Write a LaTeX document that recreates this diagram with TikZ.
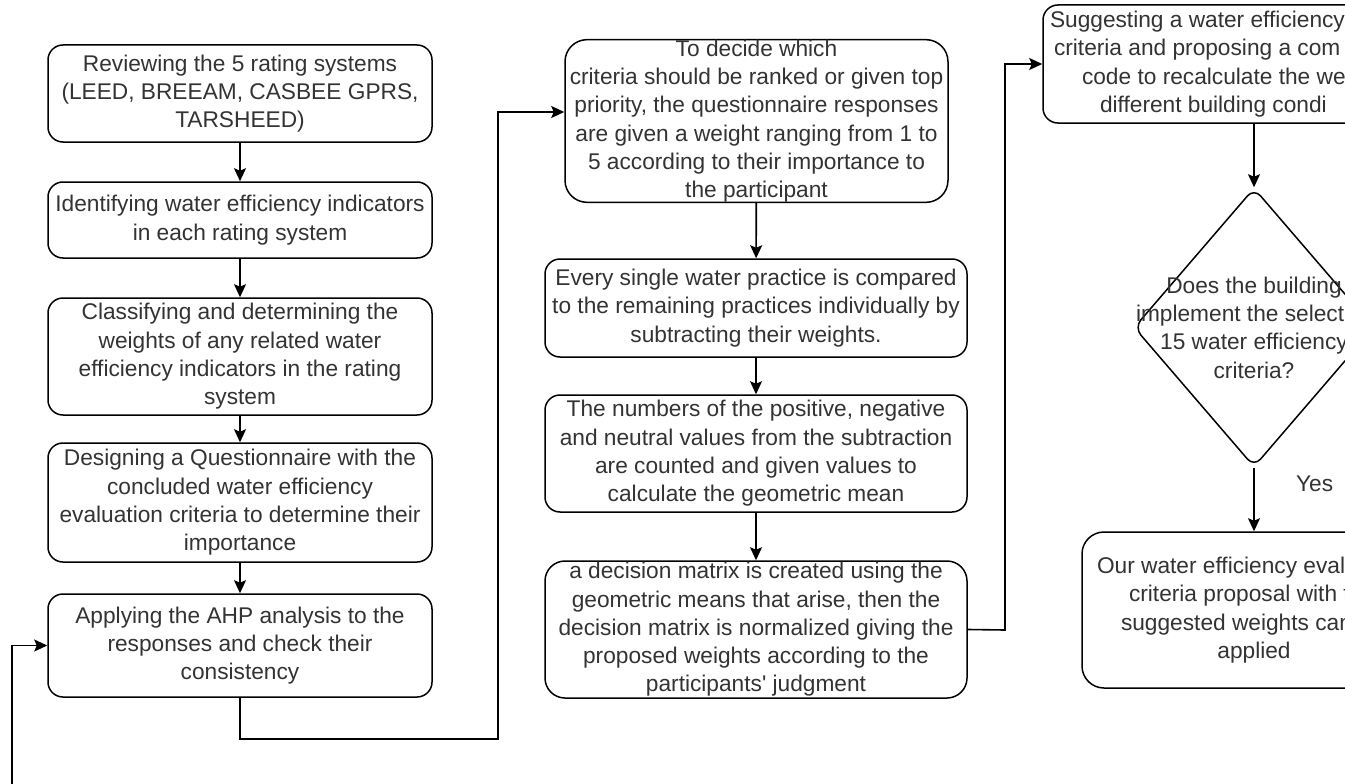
\documentclass[tikz,border=0pt]{standalone}
\usepackage{fontspec}
\setmainfont{Liberation Sans}
\usepackage{tikz}
\usetikzlibrary{arrows.meta,shapes.geometric}
\definecolor{foreground}{RGB}{0,0,0}
\definecolor{textgray}{RGB}{51,51,51}
\tikzstyle{process}=[draw=foreground,line width=1.5pt,rounded corners=15pt,inner sep=0pt,align=center,text=textgray,font=\fontsize{22.7}{28.3}\selectfont]
\tikzstyle{decision}=[draw=foreground,diamond,line width=1.5pt,rounded corners=10pt,inner sep=0pt,minimum width=240pt,minimum height=279pt]
\tikzstyle{qtext}=[align=center,text=textgray,font=\fontsize{22.7}{28.3}\selectfont]
\tikzstyle{edge} = [draw,line width=1.5pt,-]
\tikzstyle{dedge} = [draw,line width=1.6pt,-{Stealth[length=13pt,width=12pt,inset=2.5pt]}]
\newcommand{\cutline}[2]{\makebox[#1][l]{#2}}

\begin{document}
\begin{tikzpicture}[x=1pt,y=-1pt]

      \useasboundingbox (0,0) rectangle (1345,784);
      \fill[white] (0,0) rectangle (1345,784);
      \clip (0,0) rectangle (1345,784);

      % left column
      \node[process,minimum width=384pt,minimum height=97pt] (1) at (240,93.5) {Reviewing the 5 rating systems\\(LEED, BREEAM, CASBEE GPRS,\\TARSHEED)};
      \node[process,minimum width=384pt,minimum height=76pt] (2) at (240,220) {Identifying water efficiency indicators\\in each rating system};
      \node[process,minimum width=384pt,minimum height=117pt] (3) at (240,356.5) {Classifying and determining the\\weights of any related water\\efficiency indicators in the rating\\system};
      \node[process,minimum width=384pt,minimum height=119pt] (4) at (240,502.5) {Designing a Questionnaire with the\\concluded water efficiency\\evaluation criteria to determine their\\importance};
      \node[process,minimum width=384pt,minimum height=103pt] (5) at (240,645.5) {Applying the AHP analysis to the\\responses and check their\\consistency};

      % middle column
      \node[process,rounded corners=22pt,minimum width=383pt,minimum height=162pt] (6) at (756.5,121) {To decide which\\criteria should be ranked or given top\\priority, the questionnaire responses\\are given a weight ranging from 1 to\\5 according to their importance to\\the participant};
      \node[process,minimum width=422pt,minimum height=98pt] (7) at (756,308) {Every single water practice is compared\\to the remaining practices individually by\\subtracting their weights.};
      \node[process,minimum width=422pt,minimum height=117pt] (8) at (756,453.5) {The numbers of the positive, negative\\and neutral values from the subtraction\\are counted and given values to\\calculate the geometric mean};
      \node[process,rounded corners=20pt,minimum width=422pt,minimum height=137pt] (9) at (756,629.5) {a decision matrix is created using the\\geometric means that arise, then the\\decision matrix is normalized giving the\\proposed weights according to the\\participants\textquotesingle{} judgment};

      % right column
      \node[process,minimum width=422pt,minimum height=118pt] (10) at (1254,64) {\cutline{408pt}{Suggesting a water efficiency}\\\cutline{400pt}{criteria and proposing a com}\\\cutline{344pt}{code to recalculate the we}\\\cutline{308pt}{different building condi}};
      \node[decision,label={[qtext]center:Does the building\\\cutline{236pt}{implement the select}\\15 water efficiency\\criteria?}] (11) at (1254,327.5) {};
      \node[process,rounded corners=22pt,minimum width=344pt,minimum height=156pt] (12) at (1254,610) {\cutline{314pt}{Our water efficiency eval}\\\cutline{250pt}{criteria proposal with t}\\\cutline{266pt}{suggested weights can}\\applied};

      \coordinate (j1) at (498,739);
      \coordinate (j2) at (1005,630);
      \coordinate (nofeed) at (12,784);

      \path[dedge] (1) -- (2);
      \path[dedge] (2) -- (3);
      \path[dedge] (3) -- (4);
      \path[dedge] (4) -- (5);
      \path[dedge] (nofeed) |- (5.west);

      \path[dedge] (5.south) |- (j1) |- ([yshift=9pt]6.west);
      \path[dedge] (6) -- (7);
      \path[dedge] (7) -- (8);
      \path[dedge] (8) -- (9);

      \path[dedge] (9.east) -- (j2) |- (10.west);
      \path[dedge] (10) -- (11);
      \path[dedge] (11) -- node[qtext,pos=0.25,anchor=west,xshift=38pt] {Yes} (12);

    \end{tikzpicture}
\end{document}
